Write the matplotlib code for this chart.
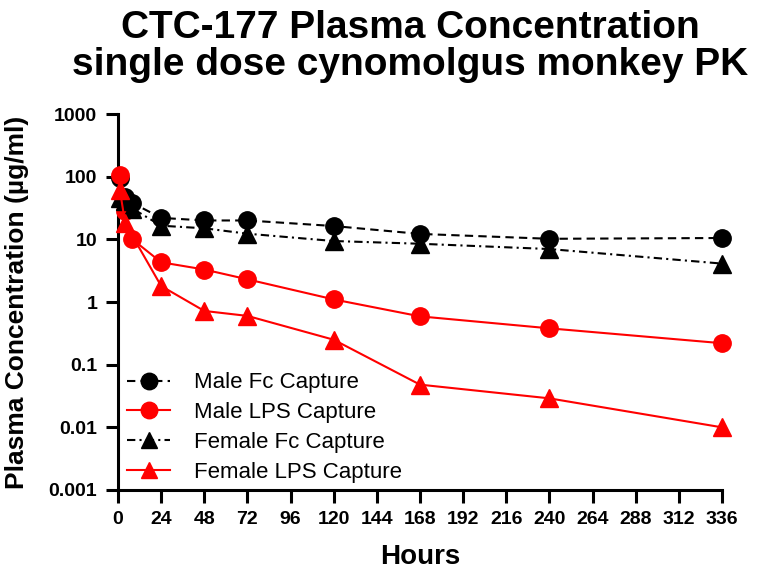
import matplotlib
matplotlib.use("Agg")
import matplotlib.pyplot as plt
from matplotlib.ticker import FixedLocator, FixedFormatter, NullLocator

plt.rcParams['font.family'] = ['Liberation Sans', 'DejaVu Sans']

hours = [1, 4, 8, 24, 48, 72, 120, 168, 240, 336]
male_fc = [95, 48, 38, 22, 20, 20, 16.3, 12.2, 10.2, 10.5]
female_fc = [45, 41, 31, 16.5, 15, 12.3, 9.4, 8.5, 7.0, 4.1]
male_lps = [105, 28, 10, 4.3, 3.3, 2.3, 1.1, 0.59, 0.38, 0.22]
hours_f_lps = [1, 4, 24, 48, 72, 120, 168, 240, 336]
female_lps = [62, 18, 1.8, 0.72, 0.6, 0.25, 0.048, 0.029, 0.01]

x_ticks = list(range(0, 337, 24))
y_ticks = [0.001, 0.01, 0.1, 1, 10, 100, 1000]
y_labels = ["0.001", "0.01", "0.1", "1", "10", "100", "1000"]

fig = plt.figure(figsize=(7.6, 5.72), dpi=100)
ax = fig.add_axes([118/760, 1 - 490/572, (722-118)/760, (490-114)/572])

ms = 12.5
ax.plot(hours, male_fc, color='black', ls=(0, (4, 2.5)), lw=1.5, marker='o', ms=ms,
        label='Male Fc Capture', clip_on=False, zorder=3)
ax.plot(hours, male_lps, color='#ff0000', ls='-', lw=1.5, marker='o', ms=ms,
        label='Male LPS Capture', clip_on=False, zorder=3)
ax.plot(hours, female_fc, color='black', ls=(0, (4, 2, 1, 2)), lw=1.5, marker='^', ms=ms,
        label='Female Fc Capture', clip_on=False, zorder=3)
ax.plot(hours_f_lps, female_lps, color='#ff0000', ls='-', lw=1.5, marker='^', ms=ms,
        label='Female LPS Capture', clip_on=False, zorder=3)

ax.set_yscale('log')
ax.set_ylim(0.001, 1000)
ax.set_xlim(0, 336)
ax.yaxis.set_major_locator(FixedLocator(y_ticks))
ax.yaxis.set_major_formatter(FixedFormatter(y_labels))
ax.yaxis.set_minor_locator(NullLocator())
ax.set_xticks(x_ticks)
ax.set_xticklabels([str(v) for v in x_ticks])

for s in ['top', 'right']:
    ax.spines[s].set_visible(False)
for s in ['left', 'bottom']:
    ax.spines[s].set_linewidth(2.2)
ax.tick_params(axis='both', which='major', direction='out', length=9, width=2.2,
               labelsize=14, pad=6)
for lbl in ax.get_xticklabels() + ax.get_yticklabels():
    lbl.set_fontweight('bold')

ax.set_xlabel('Hours', fontsize=20, fontweight='bold', labelpad=12)
ax.set_ylabel('Plasma Concentration (µg/ml)', fontsize=19, fontweight='bold')
ax.yaxis.set_label_coords(-0.147, 0.5)
fig.text(410/760, 1 - 10/572,
         'CTC-177 Plasma Concentration\nsingle dose cynomolgus monkey PK',
         fontsize=28, fontweight='bold', ha='center', va='top', linespacing=1.02)

leg = ax.legend(loc='lower left', bbox_to_anchor=(0.0, -0.005), borderaxespad=0,
                frameon=False, fontsize=16, handlelength=1.95, handletextpad=1.05,
                labelspacing=0.4, markerscale=0.95)

fig.savefig('out.png', dpi=100)
